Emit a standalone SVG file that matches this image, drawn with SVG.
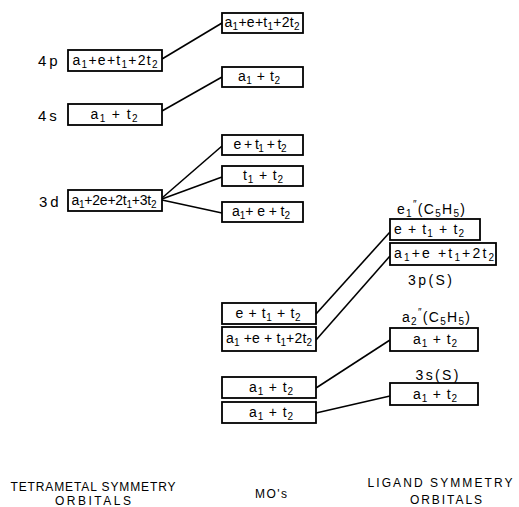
<svg xmlns="http://www.w3.org/2000/svg" width="519" height="507" viewBox="0 0 519 507">
<style>
.bx{fill:#fff;stroke:#000;stroke-width:1.8}
.t{font-family:"Liberation Sans",Arial,sans-serif;font-size:14px;text-anchor:middle;fill:#000}
.s{font-size:10px}
.lv{font-family:"Liberation Sans",Arial,sans-serif;font-size:15px;fill:#000;letter-spacing:3px}
.lb{font-family:"Liberation Sans",Arial,sans-serif;font-size:12px;text-anchor:middle;fill:#000}
.cn line{stroke:#000;stroke-width:1.6;fill:none}
</style>
<rect width="519" height="507" fill="#fff"/>
<g class="cn" id="connectors">
<line x1="162" y1="59" x2="222" y2="23"/>
<line x1="162" y1="111" x2="222" y2="77"/>
<line x1="162" y1="198" x2="222" y2="146"/>
<line x1="162" y1="199" x2="222" y2="177"/>
<line x1="162" y1="200" x2="222" y2="213"/>
<line x1="316" y1="314" x2="390" y2="232"/>
<line x1="316" y1="340" x2="390" y2="256"/>
<line x1="316" y1="388" x2="390" y2="340"/>
<line x1="316" y1="413" x2="390" y2="396"/>
</g>
<g id="lbl-4p"><text class="lv" x="38" y="66">4p</text></g>
<g id="lbl-4s"><text class="lv" x="38" y="121">4s</text></g>
<g id="lbl-3d"><text class="lv" x="39" y="207">3d</text></g>
<g id="L4p"><rect class="bx" x="68" y="50" width="94" height="21"/>
<text class="t" x="115" y="65" textLength="85" lengthAdjust="spacing">a<tspan class="s" dy="3">1</tspan><tspan dy="-3">+e+t</tspan><tspan class="s" dy="3">1</tspan><tspan dy="-3">+2t</tspan><tspan class="s" dy="3">2</tspan></text></g>
<g id="L4s"><rect class="bx" x="68" y="104" width="94" height="21"/>
<text class="t" x="114" y="119" textLength="47" lengthAdjust="spacing">a<tspan class="s" dy="3">1</tspan><tspan dy="-3"> + t</tspan><tspan class="s" dy="3">2</tspan></text></g>
<g id="L3d"><rect class="bx" x="68" y="190" width="94" height="21"/>
<text class="t" x="114" y="205" textLength="85" lengthAdjust="spacing">a<tspan class="s" dy="3">1</tspan><tspan dy="-3">+2e+2t</tspan><tspan class="s" dy="3">1</tspan><tspan dy="-3">+3t</tspan><tspan class="s" dy="3">2</tspan></text></g>
<g id="M1"><rect class="bx" x="222" y="13" width="81" height="20"/>
<text class="t" x="262" y="27" textLength="75" lengthAdjust="spacing">a<tspan class="s" dy="3">1</tspan><tspan dy="-3">+e+t</tspan><tspan class="s" dy="3">1</tspan><tspan dy="-3">+2t</tspan><tspan class="s" dy="3">2</tspan></text></g>
<g id="M2"><rect class="bx" x="222" y="67" width="81" height="20"/>
<text class="t" x="259" y="81" textLength="42" lengthAdjust="spacing">a<tspan class="s" dy="3">1</tspan><tspan dy="-3"> + t</tspan><tspan class="s" dy="3">2</tspan></text></g>
<g id="M3"><rect class="bx" x="222" y="135" width="81" height="20"/>
<text class="t" x="260" y="149" textLength="53" lengthAdjust="spacing">e + t<tspan class="s" dy="3">1</tspan><tspan dy="-3"> + t</tspan><tspan class="s" dy="3">2</tspan></text></g>
<g id="M4"><rect class="bx" x="222" y="166" width="81" height="20"/>
<text class="t" x="263" y="180" textLength="40" lengthAdjust="spacing">t<tspan class="s" dy="3">1</tspan><tspan dy="-3"> + t</tspan><tspan class="s" dy="3">2</tspan></text></g>
<g id="M5"><rect class="bx" x="222" y="202" width="81" height="20"/>
<text class="t" x="261" y="216" textLength="58" lengthAdjust="spacing">a<tspan class="s" dy="3">1</tspan><tspan dy="-3">+ e + t</tspan><tspan class="s" dy="3">2</tspan></text></g>
<g id="M6"><rect class="bx" x="222" y="303" width="94" height="21"/>
<text class="t" x="268" y="318" textLength="65" lengthAdjust="spacing">e + t<tspan class="s" dy="3">1</tspan><tspan dy="-3"> + t</tspan><tspan class="s" dy="3">2</tspan></text></g>
<g id="M7"><rect class="bx" x="222" y="327" width="94" height="24"/>
<text class="t" x="269" y="343" textLength="86" lengthAdjust="spacing">a<tspan class="s" dy="3">1</tspan><tspan dy="-3"> +e + t</tspan><tspan class="s" dy="3">1</tspan><tspan dy="-3">+2t</tspan><tspan class="s" dy="3">2</tspan></text></g>
<g id="M8"><rect class="bx" x="222" y="377" width="94" height="21"/>
<text class="t" x="271" y="392" textLength="44" lengthAdjust="spacing">a<tspan class="s" dy="3">1</tspan><tspan dy="-3"> + t</tspan><tspan class="s" dy="3">2</tspan></text></g>
<g id="M9"><rect class="bx" x="222" y="402" width="94" height="21"/>
<text class="t" x="271" y="417" textLength="44" lengthAdjust="spacing">a<tspan class="s" dy="3">1</tspan><tspan dy="-3"> + t</tspan><tspan class="s" dy="3">2</tspan></text></g>
<g id="R-e1"><text class="t" x="431" y="214" textLength="68" lengthAdjust="spacing">e<tspan class="s" dy="3">1</tspan><tspan class="s" dy="-9">″</tspan><tspan dy="6">(C</tspan><tspan class="s" dy="3">5</tspan><tspan dy="-3">H</tspan><tspan class="s" dy="3">5</tspan><tspan dy="-3">)</tspan></text></g>
<g id="R1"><rect class="bx" x="390" y="219" width="90" height="21"/>
<text class="t" x="429" y="234" textLength="70" lengthAdjust="spacing">e + t<tspan class="s" dy="3">1</tspan><tspan dy="-3"> + t</tspan><tspan class="s" dy="3">2</tspan></text></g>
<g id="R2"><rect class="bx" x="390" y="243" width="106" height="22"/>
<text class="t" x="444" y="258" textLength="100" lengthAdjust="spacing">a<tspan class="s" dy="3">1</tspan><tspan dy="-3">+e +t</tspan><tspan class="s" dy="3">1</tspan><tspan dy="-3">+2t</tspan><tspan class="s" dy="3">2</tspan></text></g>
<g id="R-3p"><text class="t" x="430" y="285" textLength="44" lengthAdjust="spacing">3p(S)</text></g>
<g id="R-a2"><text class="t" x="436" y="322" textLength="68" lengthAdjust="spacing">a<tspan class="s" dy="3">2</tspan><tspan class="s" dy="-9">″</tspan><tspan dy="6">(C</tspan><tspan class="s" dy="3">5</tspan><tspan dy="-3">H</tspan><tspan class="s" dy="3">5</tspan><tspan dy="-3">)</tspan></text></g>
<g id="R3"><rect class="bx" x="390" y="328" width="88" height="23"/>
<text class="t" x="435" y="344" textLength="44" lengthAdjust="spacing">a<tspan class="s" dy="3">1</tspan><tspan dy="-3"> + t</tspan><tspan class="s" dy="3">2</tspan></text></g>
<g id="R-3s"><text class="t" x="437" y="380" textLength="43" lengthAdjust="spacing">3s(S)</text></g>
<g id="R4"><rect class="bx" x="390" y="383" width="88" height="22"/>
<text class="t" x="435" y="399" textLength="44" lengthAdjust="spacing">a<tspan class="s" dy="3">1</tspan><tspan dy="-3"> + t</tspan><tspan class="s" dy="3">2</tspan></text></g>
<g id="footer">
<text class="lb" x="93" y="491" textLength="165" lengthAdjust="spacing">TETRAMETAL SYMMETRY</text>
<text class="lb" x="93" y="505" textLength="76" lengthAdjust="spacing">ORBITALS</text>
<text class="lb" x="271" y="498" textLength="32" lengthAdjust="spacing">MO's</text>
<text class="lb" x="440" y="487" textLength="145" lengthAdjust="spacing">LIGAND SYMMETRY</text>
<text class="lb" x="446" y="504" textLength="72" lengthAdjust="spacing">ORBITALS</text>
</g>
</svg>
